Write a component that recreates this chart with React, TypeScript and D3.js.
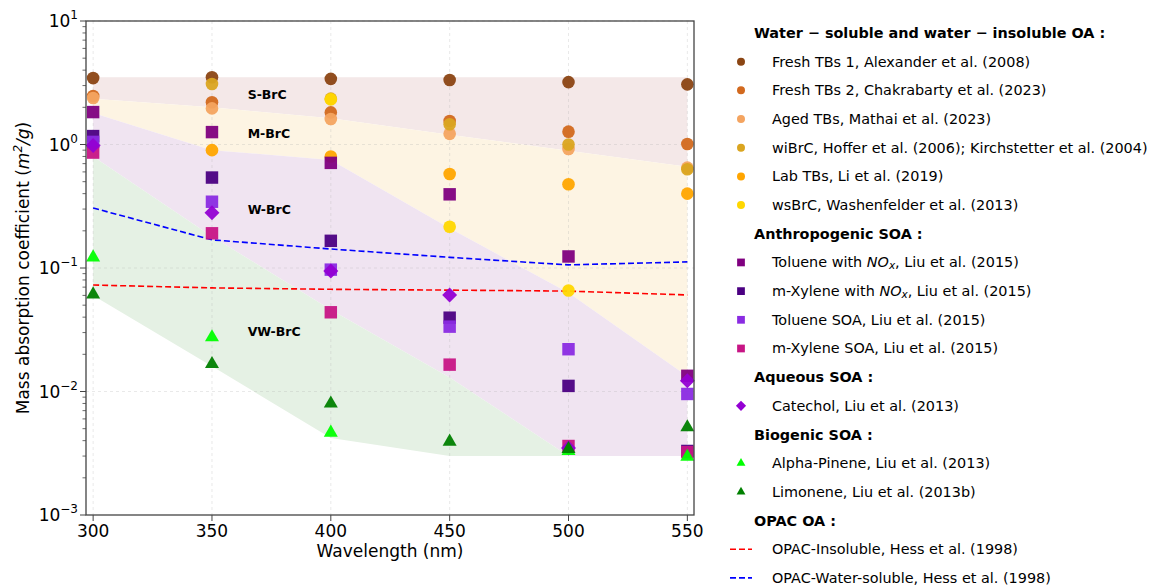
import React, { useEffect, useRef } from "react";
import * as d3 from "d3";

// wavelengths (nm)
const wavelengths = [300, 350, 400, 450, 500, 550];

// mass absorption coefficients (m2/g), null = no point
const freshTBs1 = [3.45, 3.5, 3.4, 3.33, 3.2, 3.07];
const freshTBs2 = [2.47, 2.2, 1.82, 1.55, 1.27, 1.01];
const agedTBs = [2.38, 1.96, 1.61, 1.22, 0.92, 0.65];
const wiBrC = [null, 3.09, 2.35, 1.46, 1.0, 0.63];
const labTBs = [null, 0.9, 0.8, 0.577, 0.476, 0.4];
const wsBrC = [null, null, 2.32, 0.216, 0.0658, null];
const tolueneNOx = [1.83, 1.26, 0.71, 0.395, 0.124, 0.0134];
const mXyleneNOx = [1.17, 0.54, 0.166, 0.0396, 0.0111, 0.0033];
const tolueneSOA = [1.05, 0.344, 0.097, 0.0335, 0.022, 0.00955];
const mXyleneSOA = [0.86, 0.191, 0.0438, 0.0165, 0.00362, 0.00323];
const catechol = [0.98, 0.28, 0.0946, 0.0605, 0.00349, 0.0122];
const alphaPinene = [0.122, 0.0275, 0.00464, null, 0.0033, 0.00296];
const limonene = [0.0612, 0.0167, 0.008, 0.00393, 0.00342, 0.00513];
const opacInsoluble = [0.0728, 0.069, 0.0672, 0.0662, 0.065, 0.0605];
const opacWaterSoluble = [0.306, 0.169, 0.1425, 0.122, 0.106, 0.112];

// shaded class boundaries
const bandTop = [3.5, 3.5, 3.5, 3.5, 3.5, 3.5];
const bandS = [2.35, 2.0, 1.63, 1.2, 0.89, 0.66];
const bandM = [1.8, 0.9, 0.75, 0.21, 0.063, 0.0133];
const bandW = [0.8, 0.18, 0.046, 0.013, 0.003, 0.003];
const bandVW = [0.06, 0.016, 0.0042, 0.003, 0.003, 0.003];

const bands = [
  { name: "S-BrC", top: bandTop, bottom: bandS, color: "#f4e8e8", lx: 365, ly: 2.52 },
  { name: "M-BrC", top: bandS, bottom: bandM, color: "#fdf4e3", lx: 365, ly: 1.22 },
  { name: "W-BrC", top: bandM, bottom: bandW, color: "#f0e4f1", lx: 365, ly: 0.3 },
  { name: "VW-BrC", top: bandW, bottom: bandVW, color: "#e5f1e4", lx: 365, ly: 0.0305 },
];

const groups = [
  {
    header: "Water − soluble and water − insoluble OA :",
    items: [
      { label: "Fresh TBs 1, Alexander et al. (2008)", values: freshTBs1, color: "#8b4513", shape: "circle" },
      { label: "Fresh TBs 2, Chakrabarty et al. (2023)", values: freshTBs2, color: "#d2691e", shape: "circle" },
      { label: "Aged TBs, Mathai et al. (2023)", values: agedTBs, color: "#f4a460", shape: "circle" },
      { label: "wiBrC, Hoffer et al. (2006); Kirchstetter et al. (2004)", values: wiBrC, color: "#daa520", shape: "circle" },
      { label: "Lab TBs, Li et al. (2019)", values: labTBs, color: "#ffa500", shape: "circle" },
      { label: "wsBrC, Washenfelder et al. (2013)", values: wsBrC, color: "#ffd700", shape: "circle" },
    ],
  },
  {
    header: "Anthropogenic SOA :",
    items: [
      { label: "Toluene with |NO|x|, Liu et al. (2015)", values: tolueneNOx, color: "#800080", shape: "square" },
      { label: "m-Xylene with |NO|x|, Liu et al. (2015)", values: mXyleneNOx, color: "#4b0082", shape: "square" },
      { label: "Toluene SOA, Liu et al. (2015)", values: tolueneSOA, color: "#8a2be2", shape: "square" },
      { label: "m-Xylene SOA, Liu et al. (2015)", values: mXyleneSOA, color: "#c71585", shape: "square" },
    ],
  },
  {
    header: "Aqueous SOA :",
    items: [{ label: "Catechol, Liu et al. (2013)", values: catechol, color: "#9400d3", shape: "diamond" }],
  },
  {
    header: "Biogenic SOA :",
    items: [
      { label: "Alpha-Pinene, Liu et al. (2013)", values: alphaPinene, color: "#00ff00", shape: "triangle" },
      { label: "Limonene, Liu et al. (2013b)", values: limonene, color: "#008000", shape: "triangle" },
    ],
  },
  {
    header: "OPAC OA :",
    items: [
      { label: "OPAC-Insoluble, Hess et al. (1998)", values: opacInsoluble, color: "#ff0000", shape: "line" },
      { label: "OPAC-Water-soluble, Hess et al. (1998)", values: opacWaterSoluble, color: "#0000ff", shape: "line" },
    ],
  },
];

const FONT = "DejaVu Sans, sans-serif";

const symbolPath = (shape: string, size: number) => {
  if (shape === "circle") return d3.symbol(d3.symbolCircle, size)();
  if (shape === "triangle") return d3.symbol(d3.symbolTriangle, size)();
  return d3.symbol(d3.symbolSquare, size)();
};

const App = () => {
  const svgRef = useRef<SVGSVGElement>(null);

  useEffect(() => {
    const width = 1151;
    const height = 585;
    const left = 86;
    const right = 694;
    const top = 21;
    const bottom = 515;

    const x = d3.scaleLinear().domain([297, 552.8]).range([left, right]);
    const y = d3.scaleLog().domain([1e-3, 10]).range([bottom, top]);

    const svg = d3.select(svgRef.current).attr("width", width).attr("height", height);
    svg.selectAll("*").remove();

    // shaded classes
    bands.forEach((b) => {
      const area = d3
        .area<number>()
        .x((d, i) => x(wavelengths[i]))
        .y0((d, i) => y(b.bottom[i]))
        .y1((d) => y(d));
      svg.append("path").datum(b.top).attr("fill", b.color).attr("d", area);
    });

    // grid
    const grid = svg.append("g").attr("stroke", "#b0b0b0").attr("stroke-opacity", 0.35).attr("stroke-dasharray", "3,3").attr("stroke-width", 0.8);
    wavelengths.forEach((w) => grid.append("line").attr("x1", x(w)).attr("x2", x(w)).attr("y1", top).attr("y2", bottom));
    [1e-2, 1e-1, 1, 10].forEach((v) => grid.append("line").attr("x1", left).attr("x2", right).attr("y1", y(v)).attr("y2", y(v)));

    // class labels
    bands.forEach((b) => {
      svg
        .append("text")
        .attr("x", x(b.lx))
        .attr("y", y(b.ly))
        .attr("dominant-baseline", "central")
        .attr("font-family", FONT)
        .attr("font-weight", "bold")
        .attr("font-size", 12.5)
        .text(b.name);
    });

    // OPAC lines
    const line = d3
      .line<number>()
      .x((d, i) => x(wavelengths[i]))
      .y((d) => y(d));
    groups[4].items.forEach((it) => {
      svg
        .append("path")
        .datum(it.values as number[])
        .attr("fill", "none")
        .attr("stroke", it.color)
        .attr("stroke-width", 1.6)
        .attr("stroke-dasharray", "6,3")
        .attr("d", line);
    });

    // markers
    const sizes: Record<string, number> = { circle: 125, square: 155, diamond: 112, triangle: 85 };
    groups.forEach((g) =>
      g.items
        .filter((it) => it.shape !== "line")
        .forEach((it) => {
          it.values.forEach((v, i) => {
            if (v == null) return;
            svg
              .append("path")
              .attr("d", symbolPath(it.shape, sizes[it.shape]))
              .attr(
                "transform",
                `translate(${x(wavelengths[i])},${y(v)})${it.shape === "diamond" ? " rotate(45)" : ""}`
              )
              .attr("fill", it.color)
              .attr("fill-opacity", 0.95);
          });
        })
    );

    // frame
    svg
      .append("rect")
      .attr("x", left)
      .attr("y", top)
      .attr("width", right - left)
      .attr("height", bottom - top)
      .attr("fill", "none")
      .attr("stroke", "#444")
      .attr("stroke-width", 1.3);

    // x axis
    const xa = svg.append("g").attr("font-family", FONT);
    wavelengths.forEach((w) => {
      xa.append("line").attr("x1", x(w)).attr("x2", x(w)).attr("y1", bottom).attr("y2", bottom + 6).attr("stroke", "#444");
      xa.append("text")
        .attr("x", x(w))
        .attr("y", bottom + 22)
        .attr("text-anchor", "middle")
        .attr("font-size", 17)
        .text(w);
    });
    xa.append("text")
      .attr("x", (left + right) / 2)
      .attr("y", 557)
      .attr("text-anchor", "middle")
      .attr("font-size", 17)
      .text("Wavelength (nm)");

    // y axis
    const ya = svg.append("g").attr("font-family", FONT);
    for (let e = -3; e <= 1; e++) {
      const yy = y(Math.pow(10, e));
      ya.append("line").attr("x1", left - 6).attr("x2", left).attr("y1", yy).attr("y2", yy).attr("stroke", "#444");
      const t = ya.append("text").attr("x", left - 8).attr("y", yy + 6).attr("text-anchor", "end").attr("font-size", 17);
      t.append("tspan").text("10");
      t.append("tspan").attr("dy", -8).attr("font-size", 12).text(e < 0 ? `−${-e}` : `${e}`);
      if (e < 1) {
        for (let m = 2; m <= 9; m++) {
          const ym = y(m * Math.pow(10, e));
          ya.append("line").attr("x1", left - 3.5).attr("x2", left).attr("y1", ym).attr("y2", ym).attr("stroke", "#444").attr("stroke-width", 0.8);
        }
      }
    }
    const yl = ya
      .append("text")
      .attr("transform", `translate(29,${(top + bottom) / 2}) rotate(-90)`)
      .attr("text-anchor", "middle")
      .attr("font-size", 17);
    yl.append("tspan").text("Mass absorption coefficient (");
    yl.append("tspan").attr("font-style", "italic").text("m");
    yl.append("tspan").attr("dy", -7).attr("font-size", 12).attr("font-style", "italic").text("2");
    yl.append("tspan").attr("dy", 7).attr("font-style", "italic").text("/g");
    yl.append("tspan").text(")");

    // legend
    const lg = svg.append("g").attr("font-family", FONT).attr("font-size", 14.4);
    const rowH = 28.68;
    let row = 0;
    const legSizes: Record<string, number> = { circle: 50, square: 60, diamond: 52, triangle: 34 };
    groups.forEach((g) => {
      const yy = 33 + row * rowH;
      lg.append("text")
        .attr("x", 754)
        .attr("y", yy)
        .attr("dominant-baseline", "central")
        .attr("font-weight", "bold")
        .text(g.header);
      row++;
      g.items.forEach((it) => {
        const ry = 33 + row * rowH;
        if (it.shape === "line") {
          lg.append("line")
            .attr("x1", 730)
            .attr("x2", 752)
            .attr("y1", ry)
            .attr("y2", ry)
            .attr("stroke", it.color)
            .attr("stroke-width", 1.6)
            .attr("stroke-dasharray", "6,3");
        } else {
          lg.append("path")
            .attr("d", symbolPath(it.shape, legSizes[it.shape]))
            .attr("transform", `translate(741,${ry})${it.shape === "diamond" ? " rotate(45)" : ""}`)
            .attr("fill", it.color);
        }
        const t = lg.append("text").attr("x", 772).attr("y", ry).attr("dominant-baseline", "central");
        const parts = it.label.split("|");
        if (parts.length > 1) {
          t.append("tspan").text(parts[0]);
          t.append("tspan").attr("font-style", "italic").text(parts[1]);
          t.append("tspan").attr("font-style", "italic").attr("font-size", 10.5).attr("dy", 3).text(parts[2]);
          t.append("tspan").attr("dy", -3).text(parts[3]);
        } else {
          t.text(it.label);
        }
        row++;
      });
    });
  }, []);

  return (
    <div>
      <svg ref={svgRef} style={{ position: "absolute", left: 0, top: 0, display: "block" }}></svg>
    </div>
  );
};

export default App;
